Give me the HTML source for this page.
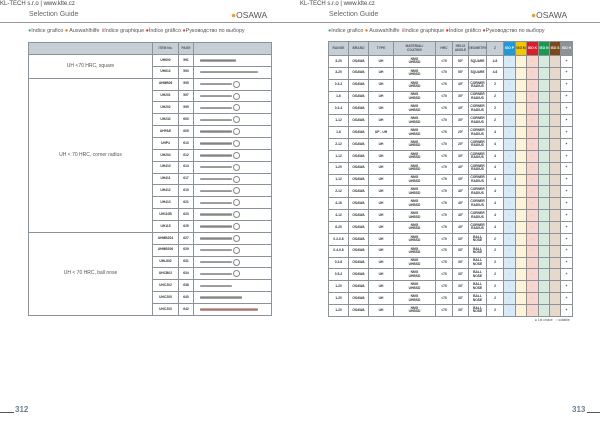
<!DOCTYPE html>
<html><head><meta charset="utf-8"><style>
*{margin:0;padding:0;box-sizing:border-box}
body{width:600px;height:424px;background:#fff;position:relative;overflow:hidden;font-family:"Liberation Sans","Noto Sans CJK SC",sans-serif;color:#333}
.a{position:absolute}
.g{display:grid;position:absolute;border-top:1px solid #8a939c;border-left:1px solid #8a939c}
.g>div{border-right:1px solid #8a939c;border-bottom:1px solid #8a939c;display:flex;align-items:center;justify-content:center;text-align:center;font-size:3.3px;font-weight:bold;line-height:3.6px;color:#333}
.hd{background:#c7ced6;color:#555!important}
.lab{font-size:5px!important;font-weight:normal!important;color:#555!important}
.bar{height:2.4px;background:linear-gradient(#ccc,#777,#bbb);border-radius:1px}
.c{width:7px;height:7px;border:0.7px solid #888;border-radius:50%;margin-left:1px;background:#fff}
.im{justify-content:flex-start!important;padding-left:6px}
.p{background:#d7eaf6}.m{background:#fdf3d8}.k{background:#f6d6cf}.n{background:#d8eadd}.s{background:#e6d8cd}
.hp{background:#1e9ad6;color:#fff!important}.hm{background:#f2c500;color:#333!important}.hk{background:#d6202a;color:#fff!important}.hn{background:#1a9a50;color:#fff!important}.hs{background:#7a4a1e;color:#fff!important}.hh{background:#8d9298;color:#fff!important}
.o{color:#9ab!important;font-weight:normal!important}
</style></head><body>
<div class="a" style="left:0;top:1px;font-size:6px;color:#444">KL-TECH s.r.o | www.klte.cz</div>
<div class="a" style="left:300px;top:1px;font-size:6px;color:#444">KL-TECH s.r.o | www.klte.cz</div>
<div class="a" style="left:29px;top:11px;font-size:7px;color:#666">Selection Guide</div>
<div class="a" style="left:329px;top:11px;font-size:7px;color:#666">Selection Guide</div>
<div class="a" style="left:231px;top:10px;font-size:8.5px;color:#555"><span style="color:#f0a020">●</span>OSAWA</div>
<div class="a" style="left:531px;top:10px;font-size:8.5px;color:#555"><span style="color:#f0a020">●</span>OSAWA</div>
<div class="a" style="left:0;top:22px;width:600px;height:1px;background:#999"></div>
<div class="a" style="left:28px;top:25.5px;font-size:5.4px;color:#555;white-space:nowrap"><span style="color:#4a6">●</span>Indice grafico <span style="color:#e60">●</span> Auswahlhilfe <span style="color:#c33">॥</span>Indice graphique <span style="color:#e22">●</span>Índice gráfico <span style="color:#c44">●</span>Руководство по выбору</div>
<div class="a" style="left:328px;top:25.5px;font-size:5.4px;color:#555;white-space:nowrap"><span style="color:#4a6">●</span>Indice grafico <span style="color:#e60">●</span> Auswahlhilfe <span style="color:#c33">॥</span>Indice graphique <span style="color:#e22">●</span>Índice gráfico <span style="color:#c44">●</span>Руководство по выбору</div>

<div class="g" style="left:28px;top:42px;grid-template-columns:124px 26px 15px 78px;grid-template-rows:12px repeat(22,11.86px)">
<div class="hd"></div><div class="hd">ITEM No.</div><div class="hd">PAGE</div><div class="hd"></div>
<div class="lab" style="grid-row:2/4;grid-column:1">UH &lt;70 HRC, square</div>
<div>UH600</div><div>591</div><div class="im"><div class="bar" style="width:36px"></div></div>
<div>UH612</div><div>593</div><div class="im"><div class="bar" style="width:58px"></div></div>
<div class="lab" style="grid-row:4/17;grid-column:1">UH &lt; 70 HRC, corner radius</div>
<div>UHMB06</div><div>595</div><div class="im"><div class="bar" style="width:32px"></div><div class="c"></div></div>
<div>UH201</div><div>597</div><div class="im"><div class="bar" style="width:32px"></div><div class="c"></div></div>
<div>UH202</div><div>599</div><div class="im"><div class="bar" style="width:32px"></div><div class="c"></div></div>
<div>UH232</div><div>600</div><div class="im"><div class="bar" style="width:32px"></div><div class="c"></div></div>
<div>UHPAE</div><div>605</div><div class="im"><div class="bar" style="width:32px"></div><div class="c"></div></div>
<div>UHP4</div><div>610</div><div class="im"><div class="bar" style="width:32px"></div><div class="c"></div></div>
<div>UH204</div><div>612</div><div class="im"><div class="bar" style="width:32px"></div><div class="c"></div></div>
<div>UH410</div><div>614</div><div class="im"><div class="bar" style="width:32px"></div><div class="c"></div></div>
<div>UH411</div><div>617</div><div class="im"><div class="bar" style="width:32px"></div><div class="c"></div></div>
<div>UH412</div><div>619</div><div class="im"><div class="bar" style="width:32px"></div><div class="c"></div></div>
<div>UH413</div><div>621</div><div class="im"><div class="bar" style="width:32px"></div><div class="c"></div></div>
<div>UH110B</div><div>623</div><div class="im"><div class="bar" style="width:32px"></div><div class="c"></div></div>
<div>UH115</div><div>625</div><div class="im"><div class="bar" style="width:32px"></div><div class="c"></div></div>
<div class="lab" style="grid-row:17/24;grid-column:1">UH &lt; 70 HRC, ball nose</div>
<div>UHMB204</div><div>627</div><div class="im"><div class="bar" style="width:32px"></div><div class="c"></div></div>
<div>UHMB206</div><div>629</div><div class="im"><div class="bar" style="width:32px"></div><div class="c"></div></div>
<div>UHL802</div><div>631</div><div class="im"><div class="bar" style="width:32px"></div><div class="c"></div></div>
<div>UHCB02</div><div>634</div><div class="im"><div class="bar" style="width:32px"></div><div class="c"></div></div>
<div>UHC202</div><div>638</div><div class="im"><div class="bar" style="width:32px"></div></div>
<div>UHC205</div><div>640</div><div class="im"><div class="bar" style="width:42px"></div></div>
<div>UHC203</div><div>642</div><div class="im"><div class="bar" style="width:58px;background:linear-gradient(#ccc,#a66,#caa)"></div></div>
</div>

<div class="g" style="left:328px;top:41px;grid-template-columns:20px 20px 25px 42px 17px 16px 18px 17px 12px 11px 12px 11px 11px 12px;grid-template-rows:14px repeat(22,11.86px)">
<div class="hd">RANGE</div><div class="hd">BRAND</div><div class="hd">TYPE</div><div class="hd">MATERIAL/<br>COATING</div><div class="hd">HRC</div><div class="hd">HELIX<br>ANGLE</div><div class="hd">GEOMETRY</div><div class="hd">Z</div><div class="hp">ISO P</div><div class="hm">ISO M</div><div class="hk">ISO K</div><div class="hn">ISO N</div><div class="hs">ISO S</div><div class="hh">ISO H</div>
<div>3-20</div><div>OSAWA</div><div>UH</div><div>NMG<br>UHBSD</div><div>&lt;70</div><div>50°</div><div>SQUARE</div><div>4-6</div><div class="p o">○</div><div class="m"></div><div class="k o">○</div><div class="n"></div><div class="s"></div><div>+</div>
<div>3-20</div><div>OSAWA</div><div>UH</div><div>NMG<br>UHBSD</div><div>&lt;70</div><div>50°</div><div>SQUARE</div><div>4-6</div><div class="p o">○</div><div class="m"></div><div class="k o">○</div><div class="n"></div><div class="s"></div><div>+</div>
<div>0.3-2</div><div>OSAWA</div><div>UH</div><div>NMG<br>UHBSD</div><div>&lt;70</div><div>40°</div><div>CORNER<br>RADIUS</div><div>2</div><div class="p o">○</div><div class="m"></div><div class="k o">○</div><div class="n"></div><div class="s"></div><div>+</div>
<div>1-6</div><div>OSAWA</div><div>UH</div><div>NMG<br>UHBSD</div><div>&lt;70</div><div>30°</div><div>CORNER<br>RADIUS</div><div>2</div><div class="p o">○</div><div class="m"></div><div class="k o">○</div><div class="n"></div><div class="s"></div><div>+</div>
<div>0.2-4</div><div>OSAWA</div><div>UH</div><div>NMG<br>UHBSD</div><div>&lt;70</div><div>40°</div><div>CORNER<br>RADIUS</div><div>2</div><div class="p o">○</div><div class="m"></div><div class="k o">○</div><div class="n"></div><div class="s"></div><div>+</div>
<div>1-12</div><div>OSAWA</div><div>UH</div><div>NMG<br>UHBSD</div><div>&lt;70</div><div>30°</div><div>CORNER<br>RADIUS</div><div>2</div><div class="p o">○</div><div class="m"></div><div class="k o">○</div><div class="n"></div><div class="s"></div><div>+</div>
<div>1-6</div><div>OSAWA</div><div>UP - UH</div><div>NMG<br>UHBSD</div><div>&lt;70</div><div>20°</div><div>CORNER<br>RADIUS</div><div>4</div><div class="p o">○</div><div class="m"></div><div class="k o">○</div><div class="n"></div><div class="s"></div><div>+</div>
<div>2-12</div><div>OSAWA</div><div>UH</div><div>NMG<br>UHBSD</div><div>&lt;70</div><div>20°</div><div>CORNER<br>RADIUS</div><div>4</div><div class="p o">○</div><div class="m"></div><div class="k o">○</div><div class="n"></div><div class="s"></div><div>+</div>
<div>1-12</div><div>OSAWA</div><div>UH</div><div>NMG<br>UHBSD</div><div>&lt;70</div><div>30°</div><div>CORNER<br>RADIUS</div><div>4</div><div class="p o">○</div><div class="m"></div><div class="k o">○</div><div class="n"></div><div class="s"></div><div>+</div>
<div>1-20</div><div>OSAWA</div><div>UH</div><div>NMG<br>UHBSD</div><div>&lt;70</div><div>40°</div><div>CORNER<br>RADIUS</div><div>4</div><div class="p o">○</div><div class="m"></div><div class="k o">○</div><div class="n"></div><div class="s"></div><div>+</div>
<div>1-12</div><div>OSAWA</div><div>UH</div><div>NMG<br>UHBSD</div><div>&lt;70</div><div>30°</div><div>CORNER<br>RADIUS</div><div>4</div><div class="p o">○</div><div class="m"></div><div class="k o">○</div><div class="n"></div><div class="s"></div><div>+</div>
<div>2-12</div><div>OSAWA</div><div>UH</div><div>NMG<br>UHBSD</div><div>&lt;70</div><div>40°</div><div>CORNER<br>RADIUS</div><div>4</div><div class="p o">○</div><div class="m"></div><div class="k o">○</div><div class="n"></div><div class="s"></div><div>+</div>
<div>4-16</div><div>OSAWA</div><div>UH</div><div>NMG<br>UHBSD</div><div>&lt;70</div><div>40°</div><div>CORNER<br>RADIUS</div><div>4</div><div class="p o">○</div><div class="m"></div><div class="k o">○</div><div class="n"></div><div class="s"></div><div>+</div>
<div>4-12</div><div>OSAWA</div><div>UH</div><div>NMG<br>UHBSD</div><div>&lt;70</div><div>40°</div><div>CORNER<br>RADIUS</div><div>4</div><div class="p o">○</div><div class="m"></div><div class="k o">○</div><div class="n"></div><div class="s"></div><div>+</div>
<div>6-20</div><div>OSAWA</div><div>UH</div><div>NMG<br>UHBSD</div><div>&lt;70</div><div>40°</div><div>CORNER<br>RADIUS</div><div>4</div><div class="p o">○</div><div class="m"></div><div class="k o">○</div><div class="n"></div><div class="s"></div><div>+</div>
<div>0.2-0.8</div><div>OSAWA</div><div>UH</div><div>NMG<br>UHBSD</div><div>&lt;70</div><div>30°</div><div>BALL<br>NOSE</div><div>2</div><div class="p o">○</div><div class="m"></div><div class="k o">○</div><div class="n"></div><div class="s"></div><div>+</div>
<div>0.4-0.8</div><div>OSAWA</div><div>UH</div><div>NMG<br>UHBSD</div><div>&lt;70</div><div>30°</div><div>BALL<br>NOSE</div><div>2</div><div class="p o">○</div><div class="m"></div><div class="k o">○</div><div class="n"></div><div class="s"></div><div>+</div>
<div>0.2-6</div><div>OSAWA</div><div>UH</div><div>NMG<br>UHBSD</div><div>&lt;70</div><div>30°</div><div>BALL<br>NOSE</div><div>2</div><div class="p o">○</div><div class="m"></div><div class="k o">○</div><div class="n"></div><div class="s"></div><div>+</div>
<div>0.5-2</div><div>OSAWA</div><div>UH</div><div>NMG<br>UHBSD</div><div>&lt;70</div><div>30°</div><div>BALL<br>NOSE</div><div>2</div><div class="p o">○</div><div class="m"></div><div class="k o">○</div><div class="n"></div><div class="s"></div><div>+</div>
<div>1-20</div><div>OSAWA</div><div>UH</div><div>NMG<br>UHBSD</div><div>&lt;70</div><div>30°</div><div>BALL<br>NOSE</div><div>2</div><div class="p o">○</div><div class="m"></div><div class="k o">○</div><div class="n"></div><div class="s"></div><div>+</div>
<div>1-20</div><div>OSAWA</div><div>UH</div><div>NMG<br>UHBSD</div><div>&lt;70</div><div>30°</div><div>BALL<br>NOSE</div><div>2</div><div class="p o">○</div><div class="m"></div><div class="k o">○</div><div class="n"></div><div class="s"></div><div>+</div>
<div>1-20</div><div>OSAWA</div><div>UH</div><div>NMG<br>UHBSD</div><div>&lt;70</div><div>30°</div><div>BALL<br>NOSE</div><div>2</div><div class="p o">○</div><div class="m"></div><div class="k o">○</div><div class="n"></div><div class="s"></div><div>+</div>
</div>
<div class="a" style="left:535px;top:318px;font-size:3.3px;color:#555">● 1st choice &nbsp; ○ suitable</div>

<div class="a" style="left:0;top:412px;width:14px;height:1px;background:#555"></div>
<div class="a" style="left:15px;top:405px;font-size:8px;font-weight:bold;color:#6b7f92">312</div>
<div class="a" style="left:572px;top:405px;font-size:8px;font-weight:bold;color:#6b7f92">313</div>
<div class="a" style="left:587px;top:412px;width:13px;height:1px;background:#555"></div>
</body></html>
